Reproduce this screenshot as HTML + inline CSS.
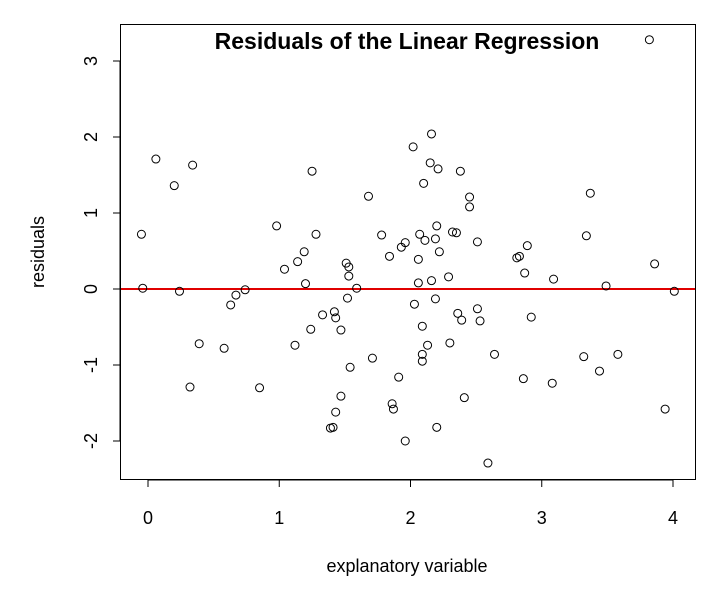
<!DOCTYPE html>
<html><head><meta charset="utf-8"><style>
body{margin:0;background:#fff;}
svg{display:block;font-family:"Liberation Sans",Arial,sans-serif;}
</style></head><body>
<svg id="chart" width="720" height="600"></svg>
<script>
const xTicks=[0,1,2,3,4];
const yTicks=[-2,-1,0,1,2,3];
const xVals=[-0.05,-0.04,0.06,0.20,0.34,0.24,0.32,0.39,0.58,0.63,0.67,0.74,0.85,0.98,1.04,1.12,1.14,1.19,1.20,1.24,1.25,1.28,1.33,1.39,1.41,1.42,1.43,1.43,1.47,1.47,1.51,1.53,1.53,1.52,1.54,1.59,1.68,1.71,1.78,1.84,1.86,1.87,1.91,1.93,1.96,1.96,2.02,2.03,2.06,2.06,2.07,2.09,2.09,2.09,2.10,2.11,2.13,2.15,2.16,2.16,2.19,2.19,2.20,2.20,2.21,2.22,2.29,2.30,2.32,2.35,2.36,2.38,2.39,2.41,2.45,2.45,2.51,2.51,2.53,2.59,2.64,2.81,2.83,2.86,2.87,2.89,2.92,3.08,3.09,3.32,3.34,3.37,3.44,3.49,3.58,3.82,3.86,3.94,4.01];
const yVals=[0.72,0.01,1.71,1.36,1.63,-0.03,-1.29,-0.72,-0.78,-0.21,-0.08,-0.01,-1.30,0.83,0.26,-0.74,0.36,0.49,0.07,-0.53,1.55,0.72,-0.34,-1.83,-1.82,-0.30,-0.38,-1.62,-1.41,-0.54,0.34,0.29,0.17,-0.12,-1.03,0.01,1.22,-0.91,0.71,0.43,-1.51,-1.58,-1.16,0.55,0.61,-2.0,1.87,-0.20,0.39,0.08,0.72,-0.49,-0.86,-0.95,1.39,0.64,-0.74,1.66,2.04,0.11,0.66,-0.13,0.83,-1.82,1.58,0.49,0.16,-0.71,0.75,0.74,-0.32,1.55,-0.41,-1.43,1.21,1.08,-0.26,0.62,-0.42,-2.29,-0.86,0.41,0.43,-1.18,0.21,0.57,-0.37,-1.24,0.13,-0.89,0.70,1.26,-1.08,0.04,-0.86,3.28,0.33,-1.58,-0.03];
const NS='http://www.w3.org/2000/svg';
const svg=document.getElementById('chart');
const X=v=>148+v*131.25, Y=v=>289-v*76;
function mk(t,a,p){const e=document.createElementNS(NS,t);for(const k in a)e.setAttribute(k,a[k]);(p||svg).appendChild(e);return e;}
const box=mk('rect',{x:120.5,y:24.5,width:575,height:455,fill:'none',stroke:'#000'});


xTicks.forEach(t=>{
 mk('line',{x1:X(t),x2:X(t),y1:480,y2:487,stroke:'#000'});
 const tx=mk('text',{x:X(t),y:524,'font-size':18,'text-anchor':'middle'});tx.textContent=t;
 
 
});
mk('line',{x1:X(0),x2:X(4),y1:480,y2:480,stroke:'#000'});
yTicks.forEach(t=>{
 mk('line',{x1:113,x2:120,y1:Y(t),y2:Y(t),stroke:'#000'});
 const tx=mk('text',{x:0,y:0,'font-size':18,'text-anchor':'middle',transform:`translate(97,${Y(t)}) rotate(-90)`});tx.textContent=t;
 
 
});
mk('line',{x1:120,x2:120,y1:Y(-2),y2:Y(3),stroke:'#000'});
const zl=mk('line',{x1:121,x2:695,y1:Y(0),y2:Y(0),stroke:'#e00000','stroke-width':2});


xVals.forEach((v,i)=>{
 const c=mk('circle',{cx:X(v),cy:Y(yVals[i]),r:4,fill:'none',stroke:'#000','stroke-width':1});
 
 
});
const title=mk('text',{x:407,y:49,'font-size':23,'font-weight':'bold','text-anchor':'middle'});title.textContent='Residuals of the Linear Regression';


const xl=mk('text',{x:407,y:572,'font-size':18,'text-anchor':'middle'});xl.textContent='explanatory variable';


const yl=mk('text',{x:0,y:0,'font-size':18,'text-anchor':'middle',transform:'translate(44,252) rotate(-90)'});yl.textContent='residuals';


</script>
</body></html>
